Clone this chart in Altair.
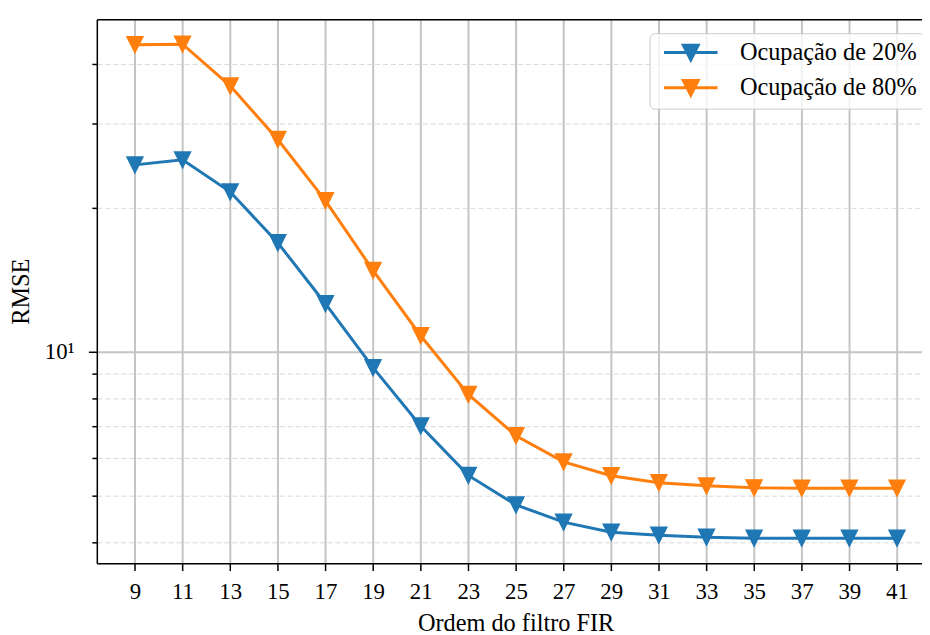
import altair as alt
import pandas as pd

# ---- data ----
orders = [9, 11, 13, 15, 17, 19, 21, 23, 25, 27, 29, 31, 33, 35, 37, 39, 41]
rmse_20 = [24.6, 25.2, 21.6, 16.9, 12.6, 9.26, 6.99, 5.51, 4.78, 4.40, 4.19, 4.13, 4.09, 4.07, 4.07, 4.07, 4.07]
rmse_80 = [43.9, 44.0, 36.0, 27.8, 20.7, 14.8, 10.8, 8.14, 6.67, 5.88, 5.50, 5.32, 5.24, 5.19, 5.18, 5.18, 5.18]
series = ["Ocupação de 20%", "Ocupação de 80%"]
colors = ["#1f77b4", "#ff7f0e"]
y_ticks = [4, 5, 6, 7, 8, 9, 10, 20, 30, 40]

df = pd.DataFrame({
    "ordem": orders * 2,
    "rmse": rmse_20 + rmse_80,
    "serie": [series[0]] * len(orders) + [series[1]] * len(orders),
})

FONT = "Liberation Serif"
W, H = 831.5, 548

xscale = alt.Scale(domain=[7.4, 42.05], nice=False, zero=False)
yscale = alt.Scale(type="log", domain=[3.61, 49.6], nice=False)
cscale = alt.Scale(domain=series, range=colors)

x_axis = alt.Axis(
    values=orders, title="Ordem do filtro FIR", labelFont=FONT, labelFontSize=23,
    labelColor="black", labelPadding=10, tickColor="black", tickSize=7.5, tickWidth=1.5,
    domainColor="black", domainWidth=1.5, grid=True, gridColor="#c4c4c4", gridWidth=2,
    titleFont=FONT, titleFontSize=24.5, titleFontWeight="normal", titleColor="black",
    titleX=422, titleY=60.5, titleBaseline="middle", titleAnchor="start", titleAlign="center",
    labelFlush=False,
)

y_axis = alt.Axis(
    values=y_ticks, labelExpr="datum.value == 10 ? '10¹' : ''",
    title="RMSE", labelFont=FONT, labelFontSize=23, labelColor="black", labelPadding=14.5,
    tickColor="black", tickWidth=1.5,
    tickSize={"condition": {"test": "datum.value == 10", "value": 8.5}, "value": 5},
    domainColor="black", domainWidth=1.5, grid=True,
    gridColor={"condition": {"test": "datum.value == 10", "value": "#c4c4c4"}, "value": "#dadada"},
    gridWidth={"condition": {"test": "datum.value == 10", "value": 2}, "value": 1},
    gridDash={"condition": {"test": "datum.value == 10", "value": []}, "value": [5, 3]},
    titleFont=FONT, titleFontSize=24.5, titleFontWeight="normal", titleColor="black",
    titleX=-75.5, titleY=274, titleAngle=-90, titleAlign="center", titleBaseline="middle",
    labelBaseline="middle",
)

legend = alt.Legend(
    title=None, orient="none", legendX=557, legendY=14,
    symbolType="M-2.4545,0L2.4545,0M-0.68,-0.68L0.68,-0.68L0,0.68Z", symbolSize=484,
    symbolStrokeWidth=3, symbolOpacity=1, symbolOffset=22,
    labelFont=FONT, labelFontSize=24.5, labelColor="black",
    labelOffset=37, padding=7, rowPadding=8.5, fillColor="rgba(255,255,255,0.8)",
    strokeColor="#cccccc", cornerRadius=5, labelLimit=400,
)

base = alt.Chart(df)

lines = base.mark_line(strokeWidth=3).encode(
    x=alt.X("ordem:Q", scale=xscale, axis=x_axis),
    y=alt.Y("rmse:Q", scale=yscale, axis=y_axis),
    color=alt.Color("serie:N", scale=cscale, legend=legend),
)

points = base.mark_point(
    shape="M-1,-1L1,-1L0,1Z", filled=True, size=256, strokeWidth=1.5, opacity=1
).encode(
    x=alt.X("ordem:Q", scale=xscale,
            axis=alt.Axis(orient="top", labels=False, ticks=False, grid=False, title=None,
                          domainColor="black", domainWidth=1.5)),
    y=alt.Y("rmse:Q", scale=yscale, axis=y_axis),
    color=alt.Color("serie:N", scale=cscale, legend=legend),
    stroke=alt.Stroke("serie:N", scale=cscale, legend=legend),
)

chart = alt.layer(lines, points).resolve_axis(x="independent").properties(
    width=W, height=H,
    autosize=alt.AutoSizeParams(type="none"),
    padding={"left": 89.5, "top": 9, "right": 0, "bottom": 72},
).configure_view(stroke=None).configure_legend(
    labelFont=FONT, labelFontSize=24.5, labelColor="black"
).configure(background="white", font=FONT)

chart.save("out.html", embed_options={"renderer": "svg", "actions": False})
